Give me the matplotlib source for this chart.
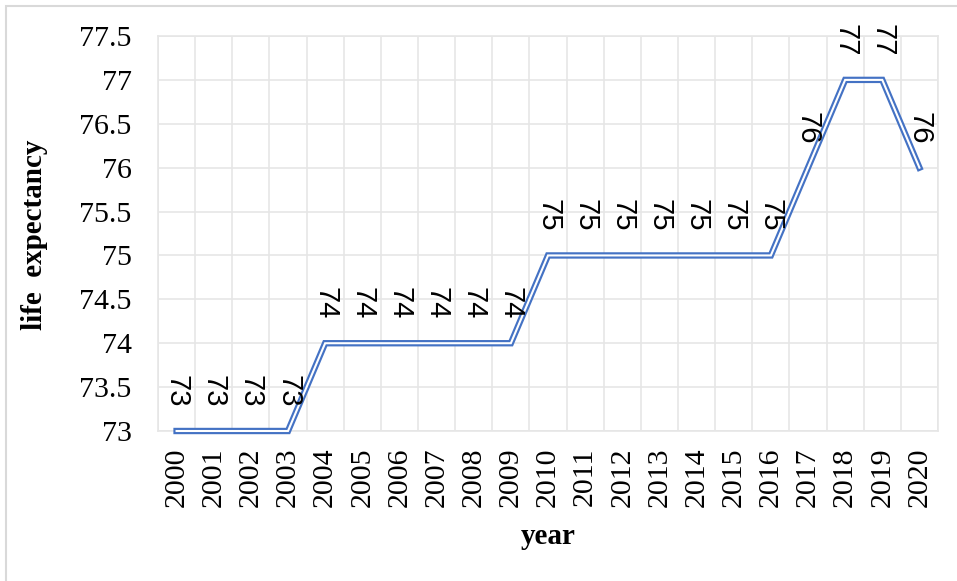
import matplotlib
matplotlib.use("Agg")
import matplotlib.pyplot as plt
from matplotlib.patches import Rectangle
import numpy as np

years = [str(y) for y in range(2000, 2021)]
life_expectancy = [73, 73, 73, 73, 74, 74, 74, 74, 74, 74,
                   75, 75, 75, 75, 75, 75, 75, 76, 77, 77, 76]
y_ticks = [73, 73.5, 74, 74.5, 75, 75.5, 76, 76.5, 77, 77.5]

W, H = 957, 581
fig = plt.figure(figsize=(W / 100, H / 100), dpi=100)

# chart frame (only top and left edges fall inside the canvas)
fig.patches.append(Rectangle((6 / W, -0.05), 1.1, (H - 6) / H + 0.05,
                             transform=fig.transFigure, fill=False,
                             edgecolor="#D9D9D9", linewidth=1.5))

ax = fig.add_axes([158 / W, (H - 431) / H, 780 / W, 395 / H])

x = np.arange(len(years))
grid_c = "#E6E6E6"

ax.set_xlim(-0.5, len(years) - 0.5)
ax.set_ylim(73, 77.5)
ax.set_yticks(y_ticks)
ax.set_yticklabels([f"{v:g}" for v in y_ticks])
ax.set_xticks(x)
ax.set_xticklabels(years, rotation=90)
ax.set_xticks(np.arange(-0.5, len(years)), minor=True)

ax.grid(True, axis="y", which="major", color=grid_c, linewidth=1.2)
ax.grid(True, axis="x", which="minor", color=grid_c, linewidth=1.2)
ax.grid(False, axis="x", which="major")
ax.set_axisbelow(True)
for s in ax.spines.values():
    s.set_color(grid_c)
    s.set_linewidth(1.2)

ax.tick_params(axis="both", which="both", length=0)
ax.tick_params(axis="y", pad=19)
ax.tick_params(axis="x", pad=12)

serif = "Liberation Serif"
for lab in ax.get_xticklabels() + ax.get_yticklabels():
    lab.set_fontfamily(serif)
    lab.set_fontsize(21.5)

# double compound line: blue stroke with a white core
ax.plot(x, life_expectancy, color="#4472C4", linewidth=4.6,
        solid_joinstyle="miter", clip_on=False, zorder=3)
ax.plot(x, life_expectancy, color="white", linewidth=1.5,
        solid_joinstyle="miter", clip_on=False, zorder=4)

for xi, v in zip(x, life_expectancy):
    ax.annotate(f"{v}", (xi, v), xytext=(0, 17), textcoords="offset points",
                rotation=-90, ha="center", va="bottom", fontsize=21,
                fontfamily="Liberation Sans", color="black", zorder=5)

fig.text(548 / W, 1 - 536 / H, "year", fontfamily=serif, fontweight="bold",
         fontsize=21, ha="center", va="center")
fig.text(35 / W, 1 - 235 / H, "life  expectancy", fontfamily=serif,
         fontweight="bold", fontsize=21, rotation=90, ha="center",
         va="center")

fig.savefig("out.png", dpi=100)
